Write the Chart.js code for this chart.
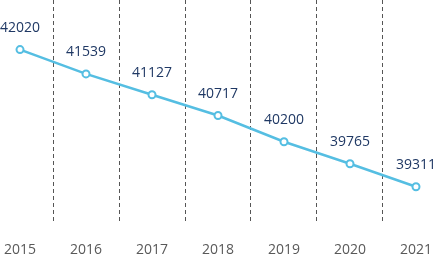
<!DOCTYPE html>
<html>
<head>
<meta charset="utf-8">
<script src="https://cdn.jsdelivr.net/npm/chart.js@4"></script>
<style>
  html, body { margin: 0; padding: 0; background: #fff; overflow: hidden; }
  #wrap { position: absolute; left: -13px; top: 0; width: 462px; height: 275px; }
</style>
</head>
<body>
<div id="wrap"><canvas id="grafico"></canvas></div>
<script>
const anos = ['2015', '2016', '2017', '2018', '2019', '2020', '2021'];
const valores = [42020, 41539, 41127, 40717, 40200, 39765, 39311];

// rótulos acima de cada ponto
const rotulos = {
    id: 'rotulos',
    afterDatasetsDraw(chart) {
        const ctx = chart.ctx;
        const meta = chart.getDatasetMeta(0);
        ctx.save();
        ctx.font = '14px "Open Sans"';
        ctx.fillStyle = '#1f3864';
        ctx.textAlign = 'center';
        ctx.textBaseline = 'middle';
        meta.data.forEach((p, i) => {
            ctx.fillText(String(valores[i]), p.x, p.y - 22);
        });
        ctx.restore();
    }
};

const ctx = document.getElementById('grafico').getContext('2d');
new Chart(ctx, {
    type: 'line',
    data: {
        labels: anos,
        datasets: [{
            data: valores,
            borderColor: '#55bee2',
            borderWidth: 2.5,
            pointBackgroundColor: '#ffffff',
            pointBorderColor: '#55bee2',
            pointBorderWidth: 2,
            pointRadius: 3.5,
            tension: 0
        }]
    },
    options: {
        responsive: true,
        maintainAspectRatio: false,
        animation: false,
        layout: { padding: 0, autoPadding: false },
        plugins: {
            legend: { display: false },
            tooltip: { enabled: false }
        },
        scales: {
            x: {
                offset: true,
                grid: {
                    offset: true,
                    color: '#555555',
                    lineWidth: 1,
                    drawTicks: false
                },
                border: { display: false, dash: [4, 3] },
                ticks: {
                    color: '#595959',
                    font: { family: 'Open Sans', size: 14 },
                    padding: 17
                }
            },
            y: {
                display: false,
                min: 38570,
                max: 43000
            }
        }
    },
    plugins: [rotulos]
});
</script>
</body>
</html>
